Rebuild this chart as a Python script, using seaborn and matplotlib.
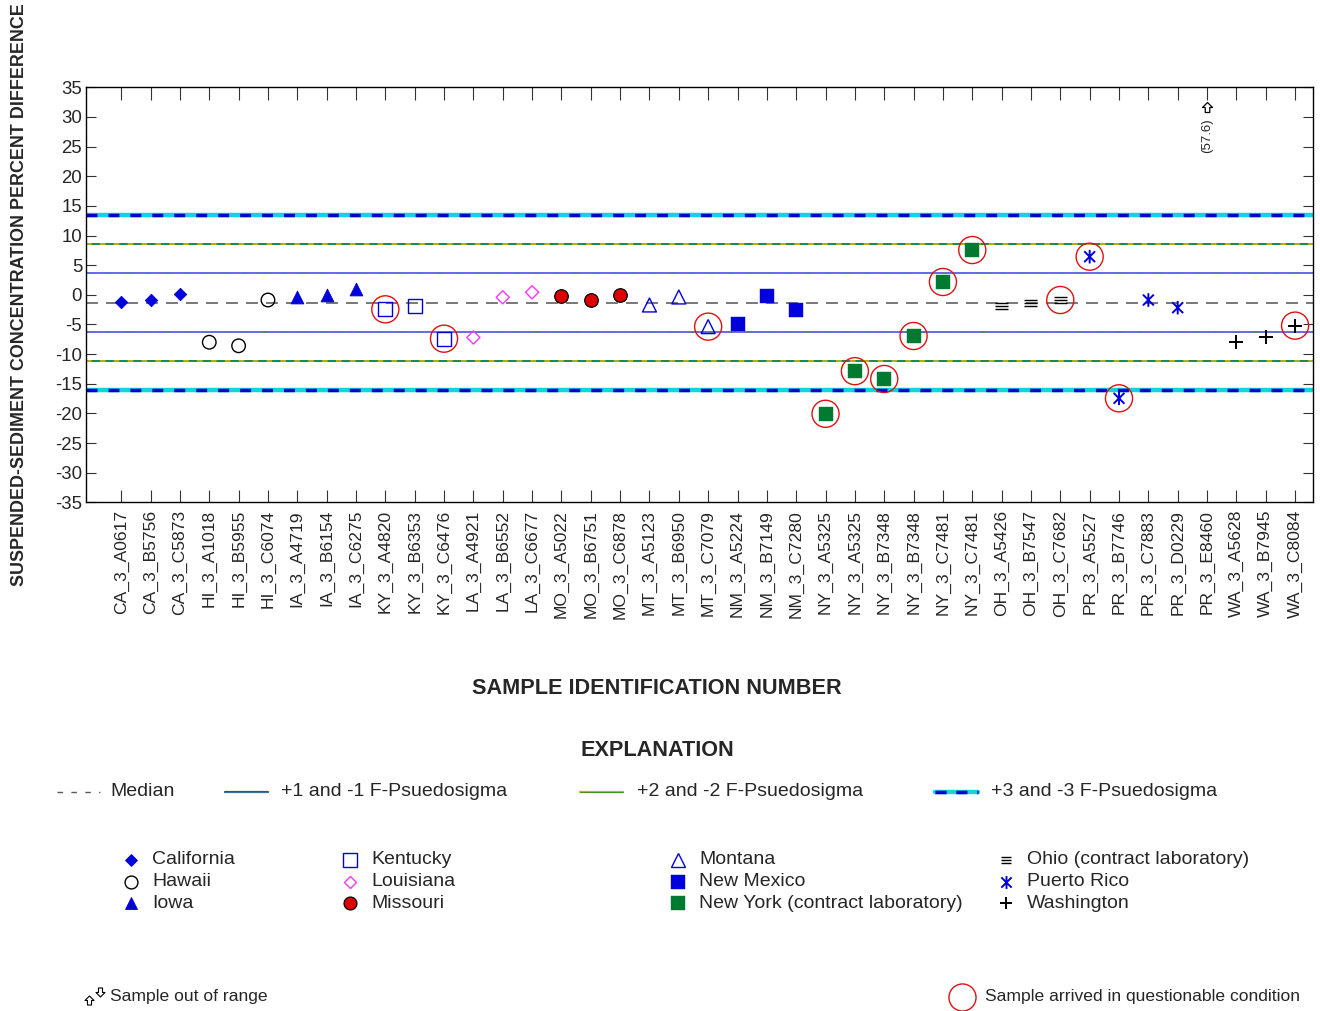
import numpy as np
import pandas as pd
import matplotlib
matplotlib.use("Agg")
import matplotlib.pyplot as plt
import seaborn as sns
from matplotlib.path import Path
from matplotlib.lines import Line2D

# ---------------- data ----------------
samples = ["CA_3_A0617", "CA_3_B5756", "CA_3_C5873", "HI_3_A1018", "HI_3_B5955",
           "HI_3_C6074", "IA_3_A4719", "IA_3_B6154", "IA_3_C6275", "KY_3_A4820",
           "KY_3_B6353", "KY_3_C6476", "LA_3_A4921", "LA_3_B6552", "LA_3_C6677",
           "MO_3_A5022", "MO_3_B6751", "MO_3_C6878", "MT_3_A5123", "MT_3_B6950",
           "MT_3_C7079", "NM_3_A5224", "NM_3_B7149", "NM_3_C7280", "NY_3_A5325",
           "NY_3_A5325", "NY_3_B7348", "NY_3_B7348", "NY_3_C7481", "NY_3_C7481",
           "OH_3_A5426", "OH_3_B7547", "OH_3_C7682", "PR_3_A5527", "PR_3_B7746",
           "PR_3_C7883", "PR_3_D0229", "PR_3_E8460", "WA_3_A5628", "WA_3_B7945",
           "WA_3_C8084"]
values = [-1.16, -0.88, 0.13, -8.0, -8.6,
          -0.88, -0.45, 0.05, 0.93, -2.45,
          -1.9, -7.4, -7.2, -0.42, 0.42,
          -0.2, -0.82, 0.02, -1.72, -0.37,
          -5.37, -4.92, -0.18, -2.53, -20.07,
          -12.88, -14.2, -6.95, 2.16, 7.55,
          -1.89, -1.33, -0.88, 6.43, -17.46,
          -0.88, -2.17, 57.6, -7.9, -7.17,
          -5.2]
questionable = [0, 0, 0, 0, 0,
                0, 0, 0, 0, 1,
                0, 1, 0, 0, 0,
                0, 0, 0, 0, 0,
                1, 0, 0, 0, 1,
                1, 1, 1, 1, 1,
                0, 0, 1, 1, 1,
                0, 0, 0, 0, 0,
                1]
median_value = -1.33
f_pseudosigma = 4.93
y_min, y_max = -35, 35

state_codes = ["CA", "HI", "IA", "KY", "LA", "MO", "MT", "NM", "NY", "OH", "PR", "WA"]
state_names = ["California", "Hawaii", "Iowa", "Kentucky", "Louisiana", "Missouri",
               "Montana", "New Mexico", "New York (contract laboratory)",
               "Ohio (contract laboratory)", "Puerto Rico", "Washington"]

# ---------------- styles ----------------
BLUE = "#0000dd"
ohio_marker = Path([(-1, 0.48), (1, 0.48), (-1, 0), (1, 0), (-1, -0.48), (1, -0.48)],
                   [Path.MOVETO, Path.LINETO, Path.MOVETO, Path.LINETO, Path.MOVETO, Path.LINETO])
pr_marker = Path([(0, -1), (0, 1), (-0.8, -0.8), (0.8, 0.8), (-0.8, 0.8), (0.8, -0.8)],
                 [Path.MOVETO, Path.LINETO, Path.MOVETO, Path.LINETO, Path.MOVETO, Path.LINETO])
up_arrow = Path([(0, 1), (-1, 0), (-0.45, 0), (-0.45, -1), (0.45, -1), (0.45, 0), (1, 0), (0, 1)],
                [Path.MOVETO] + [Path.LINETO] * 6 + [Path.CLOSEPOLY])
down_arrow = Path([(0, -1), (-1, 0), (-0.45, 0), (-0.45, 1), (0.45, 1), (0.45, 0), (1, 0), (0, -1)],
                  [Path.MOVETO] + [Path.LINETO] * 6 + [Path.CLOSEPOLY])

# marker, size(s), facecolor, edgecolor, linewidth
styles = {
    "CA": ("D", 40, BLUE, BLUE, 0.6),
    "HI": ("o", 95, "none", "black", 1.0),
    "IA": ("^", 85, BLUE, BLUE, 0.6),
    "KY": ("s", 100, "none", BLUE, 1.0),
    "LA": ("D", 45, "none", "#ff33ff", 1.0),
    "MO": ("o", 95, "#dd0000", "black", 0.9),
    "MT": ("^", 100, "none", BLUE, 1.0),
    "NM": ("s", 105, BLUE, BLUE, 0.3),
    "NY": ("s", 110, "#007a30", "#007a30", 0.3),
    "OH": (ohio_marker, 88, "none", "black", 1.0),
    "PR": (pr_marker, 95, "none", BLUE, 1.4),
    "WA": ("+", 95, None, "black", 1.4),
}

plt.rcParams["figure.dpi"] = 100
sns.set_theme(style="ticks")
plt.rcParams["font.family"] = ["Liberation Sans", "DejaVu Sans"]
plt.rcParams["lines.scale_dashes"] = False

W, H = 1320, 1011
fig = plt.figure(figsize=(W / 100, H / 100), dpi=100)
fig.patch.set_facecolor("white")
ax = fig.add_axes([86.3 / W, 1 - 502.3 / H, (1312.7 - 86.3) / W, (502.3 - 87.3) / H])
ax.set_facecolor("white")

df = pd.DataFrame({"sample": samples, "value": values, "questionable": questionable})
df["pos"] = np.arange(len(df))
df["state"] = df["sample"].str[:2]
in_range = df[(df["value"] <= y_max) & (df["value"] >= y_min)]
out_range = df[(df["value"] > y_max) | (df["value"] < y_min)].copy()

# ---------------- reference lines ----------------
ax.axhline(median_value, color="#5a5a5a", lw=1.15, ls=(0, (8.6, 5.8)), zorder=2)
for k in (1, -1):
    yv = median_value + k * f_pseudosigma
    ax.axhline(yv, color="#4040e6", lw=1.1, zorder=2)
    ax.axhline(yv, color="#3f8a72", lw=0.5, ls=(0, (4, 10)), zorder=2.1)
for k in (2, -2):
    yv = median_value + k * f_pseudosigma
    ax.axhline(yv, color="#0b7d3c", lw=1.3, zorder=2)
    ax.axhline(yv, color="#c9b200", lw=1.3, ls=(0, (4, 6)), zorder=2.1)
for k in (3, -3):
    yv = median_value + k * f_pseudosigma
    ax.axhline(yv, color="#12d3df", lw=3.2, zorder=2)
    ax.axhline(yv, color="#0000cc", lw=2.5, ls=(0, (7.9, 7.9)), zorder=2.1)

# ---------------- points ----------------
for code in state_codes:
    sub = in_range[in_range["state"] == code]
    if sub.empty:
        continue
    marker, s, fc, ec, lw = styles[code]
    if fc is None:
        sns.scatterplot(data=sub, x="pos", y="value", marker=marker, s=s, color=ec,
                        linewidth=lw, ax=ax, zorder=5, legend=False)
    else:
        sns.scatterplot(data=sub, x="pos", y="value", marker=marker, s=s, color=ec,
                        facecolor=fc, edgecolor=ec, linewidth=lw, ax=ax, zorder=5,
                        legend=False)

q = in_range[in_range["questionable"] == 1]
sns.scatterplot(data=q, x="pos", y="value", marker="o", s=380, color="#e01010",
                facecolor="none", edgecolor="#e01010", linewidth=1.0, ax=ax, zorder=6,
                legend=False)

# out of range annotation: arrow pinned near the top of the axis
out_range["arrow_y"] = y_max - 3.3
sns.scatterplot(data=out_range, x="pos", y="arrow_y", marker=up_arrow, s=52,
                color="black", facecolor="white", edgecolor="black", linewidth=0.9,
                ax=ax, zorder=7, legend=False)
for _, r in out_range.iterrows():
    ax.text(r["pos"], y_max - 8.2, f"({r['value']:.1f})", ha="center", va="center",
            rotation=90, fontsize=9.5, zorder=7)

# ---------------- axes ----------------
ax.set_xlim(-1.19, len(samples) - 1 + 0.6)
ax.set_ylim(y_min, y_max)
ax.set_xticks(df["pos"])
ax.set_xticklabels(samples, rotation=90, fontsize=12.6)
ax.set_yticks(np.arange(y_min, y_max + 1, 5))
ax.set_yticklabels([str(v) for v in range(y_min, y_max + 1, 5)], fontsize=13.4)
ax.tick_params(axis="x", direction="in", length=9, width=0.8, color="#333333",
               top=True, bottom=True, pad=5.5)
ax.tick_params(axis="y", direction="in", length=7.5, width=0.8, color="#333333",
               left=True, right=True, pad=3)
for sp in ax.spines.values():
    sp.set_visible(True)
    sp.set_linewidth(1.0)
    sp.set_color("black")
ax.set_xlabel("")
ax.set_ylabel("")
ax.grid(False)

def fx(px):
    return px / W

def fy(py):
    return 1 - py / H

fig.text(fx(20), fy(295), "SUSPENDED-SEDIMENT CONCENTRATION PERCENT DIFFERENCE",
         rotation=90, ha="center", va="center", fontsize=12.9, fontweight="bold")
fig.text(fx(657), fy(688), "SAMPLE IDENTIFICATION NUMBER", ha="center", va="center",
         fontsize=15.6, fontweight="bold")
fig.text(fx(657), fy(750), "EXPLANATION", ha="center", va="center",
         fontsize=15.6, fontweight="bold")

# ---------------- explanation: lines ----------------
def fig_line(x0, x1, y, **kw):
    fig.add_artist(Line2D([fx(x0), fx(x1)], [fy(y), fy(y)], transform=fig.transFigure, **kw))

ly = 792
fig_line(57, 100, ly, color="#5a5a5a", lw=1.0, ls=(0, (4, 6)))
fig.text(fx(110), fy(ly), "Median", ha="left", va="center", fontsize=14)
fig_line(225, 268, ly, color="#3c3ce6", lw=1.6)
fig_line(225, 268, ly, color="#3f8a72", lw=0.5)
fig.text(fx(281), fy(ly), "+1 and -1 F-Psuedosigma", ha="left", va="center", fontsize=14)
fig_line(580, 623, ly, color="#c9b200", lw=1.6)
fig_line(580, 623, ly, color="#0b7d3c", lw=0.5)
fig.text(fx(637), fy(ly), "+2 and -2 F-Psuedosigma", ha="left", va="center", fontsize=14)
fig_line(935, 978, ly, color="#12d3df", lw=3.2)
fig_line(935, 978, ly, color="#0000cc", lw=2.5, ls=(0, (8, 7)))
fig.text(fx(991), fy(ly), "+3 and -3 F-Psuedosigma", ha="left", va="center", fontsize=14)

# ---------------- explanation: states ----------------
col_x = [131, 350, 678, 1006]
row_y = [860, 882, 903]
for i, (code, name) in enumerate(zip(state_codes, state_names)):
    cx = col_x[i // 3]
    cy = row_y[i % 3]
    marker, s, fc, ec, lw = styles[code]
    ms = np.sqrt(s) * (0.8 if code == "OH" else 0.95)
    if fc is None:
        fig.add_artist(Line2D([fx(cx)], [fy(cy)], transform=fig.transFigure, marker=marker,
                              ms=ms, color=ec, mew=lw, ls="none"))
    else:
        fig.add_artist(Line2D([fx(cx)], [fy(cy)], transform=fig.transFigure, marker=marker,
                              ms=ms, mfc=fc, mec=ec, mew=lw, ls="none"))
    fig.text(fx(cx + 21), fy(cy), name, ha="left", va="center", fontsize=14)

# ---------------- bottom notes ----------------
fig.add_artist(Line2D([fx(89)], [fy(1000)], transform=fig.transFigure, marker=up_arrow,
                      ms=6.5, mfc="white", mec="black", mew=0.8, ls="none"))
fig.add_artist(Line2D([fx(100)], [fy(992)], transform=fig.transFigure, marker=down_arrow,
                      ms=6.5, mfc="white", mec="black", mew=0.8, ls="none"))
fig.text(fx(110), fy(997), "Sample out of range", ha="left", va="center", fontsize=12.6)
fig.add_artist(Line2D([fx(962)], [fy(997)], transform=fig.transFigure, marker="o", ms=19.5,
                      mfc="none", mec="#e01010", mew=1.0, ls="none"))
fig.text(fx(985), fy(997), "Sample arrived in questionable condition", ha="left", va="center",
         fontsize=12.6)

fig.savefig("out.png", dpi=100, facecolor="white")
